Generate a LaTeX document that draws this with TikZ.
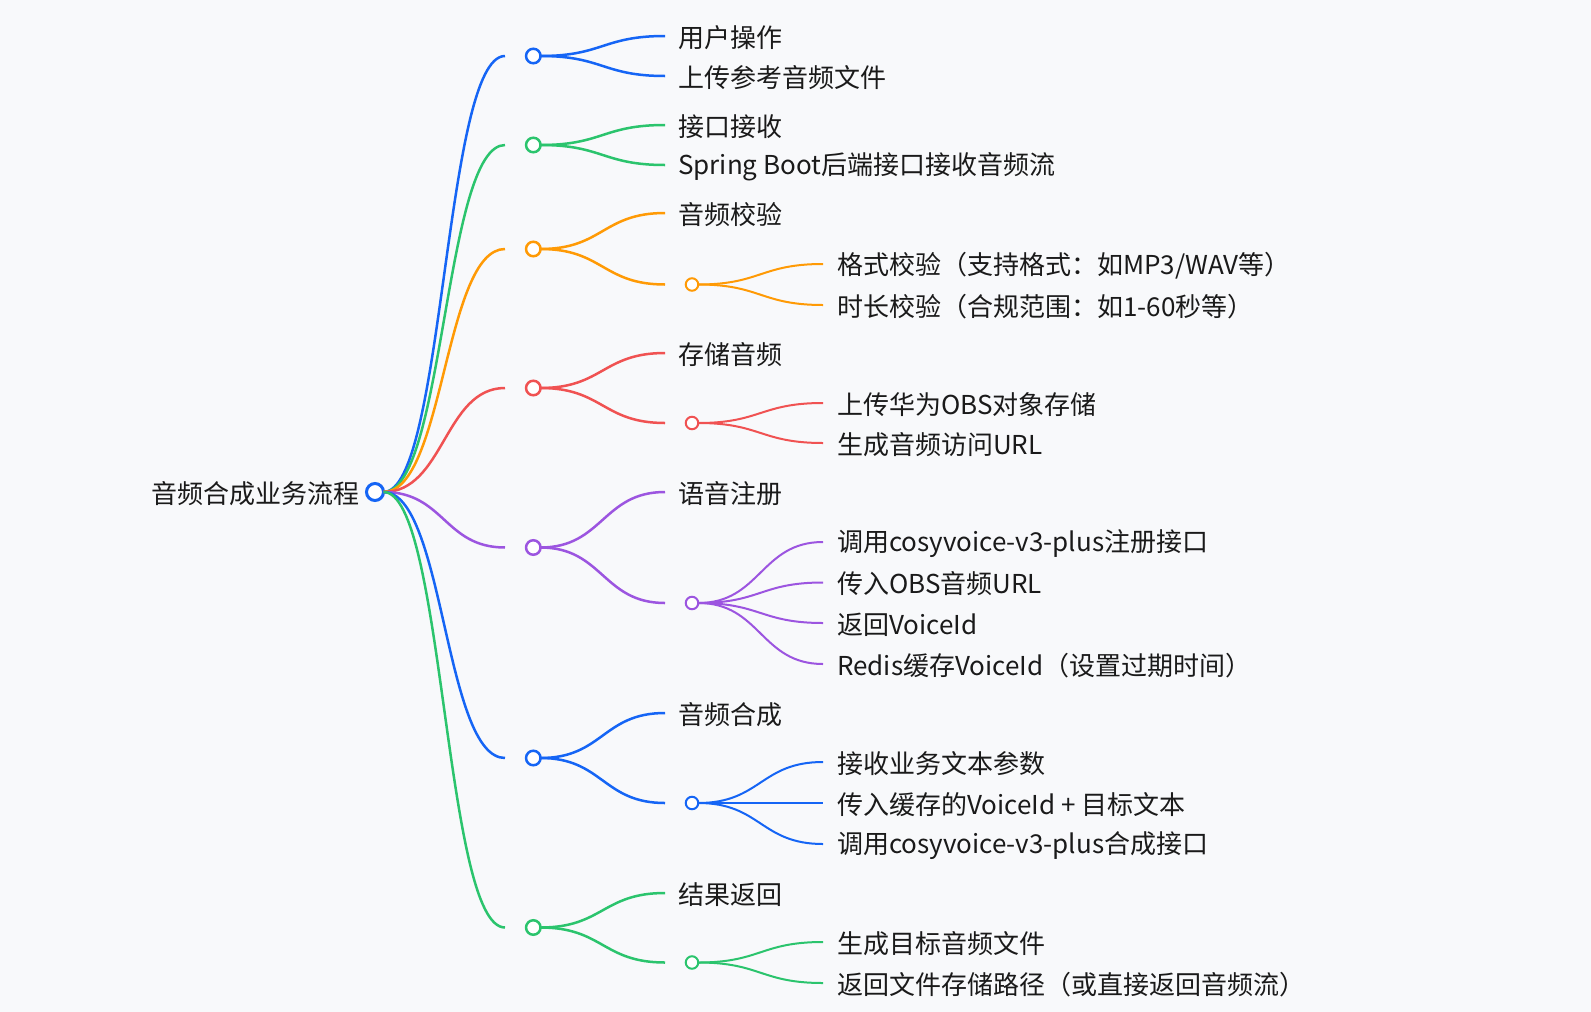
\documentclass[tikz,border=0pt]{standalone}
\usepackage{fontspec}
\setmainfont{Noto Sans CJK SC}
\usetikzlibrary{calc}
\definecolor{bgc}{HTML}{F8F9FB}
\definecolor{ink}{HTML}{1A1A1A}
\definecolor{cblue}{HTML}{1565F5}
\definecolor{cgreen}{HTML}{2BC46D}
\definecolor{corange}{HTML}{FF9A05}
\definecolor{cred}{HTML}{F05252}
\definecolor{cpurple}{HTML}{9C55E0}
\newcommand\mmlink[3]{\draw[#1] let \p1=(#2), \p2=(#3) in (\p1) .. controls ({0.5*\x1+0.5*\x2},\y1) and ({0.5*\x1+0.5*\x2},\y2) .. (\p2);}
\tikzset{
  dot/.style={circle, draw, fill=white, inner sep=0pt, outer sep=0pt},
  rootdot/.style={dot, minimum size=17pt, line width=3pt},
  lone/.style={dot, minimum size=14.5pt, line width=2.5pt},
  ltwo/.style={dot, minimum size=12.5pt, line width=2pt},
  lbl/.style={anchor=west, inner sep=0pt, text=ink, font=\fontsize{26pt}{30pt}\selectfont},
  link/.style={line width=2.5pt},
  sublink/.style={line width=2pt},
}
\begin{document}
\begin{tikzpicture}[x=1pt,y=-1pt]
\fill[bgc] (0,0) rectangle (1591,1012);
\useasboundingbox (0,0) rectangle (1591,1012);

% root
\node[rootdot, draw=cblue] (root) at (375,492) {};
\node[lbl, anchor=east] (troot) at (360,493.5) {音频合成业务流程};

% ---------- branch 1
\coordinate (e1) at (505,56);
\node[lone, draw=cblue] (n1) at (533.3,56) {};
\coordinate (e1a) at (665,36);
\coordinate (e1b) at (665,76);
\node[lbl] (t1a) at (678,37.5) {用户操作};
\node[lbl] (t1b) at (678,77.5) {上传参考音频文件};
\mmlink{cblue,link}{root.east}{e1}
\mmlink{cblue,link}{n1.east}{e1a}
\mmlink{cblue,link}{n1.east}{e1b}

% ---------- branch 2
\coordinate (e2) at (505,145);
\node[lone, draw=cgreen] (n2) at (533.3,145) {};
\coordinate (e2a) at (665,125);
\coordinate (e2b) at (665,165);
\node[lbl] (t2a) at (678,126.5) {接口接收};
\node[lbl] (t2b) at (678,166.5) {Spring Boot后端接口接收音频流};
\mmlink{cgreen,link}{root.east}{e2}
\mmlink{cgreen,link}{n2.east}{e2a}
\mmlink{cgreen,link}{n2.east}{e2b}

% ---------- branch 3
\coordinate (e3) at (505,249);
\node[lone, draw=corange] (n3) at (533.3,249) {};
\coordinate (e3a) at (665,213);
\coordinate (e3m) at (665,284.5);
\node[lbl] (t3a) at (678,214.5) {音频校验};
\node[ltwo, draw=corange] (m3) at (692,284.5) {};
\coordinate (s3a) at (823,264);
\coordinate (s3b) at (823,305);
\node[lbl] (u3a) at (837,265.5) {格式校验（支持格式：如MP3/WAV等）};
\node[lbl] (u3b) at (837,306.5) {时长校验（合规范围：如1-60秒等）};
\mmlink{corange,link}{root.east}{e3}
\mmlink{corange,link}{n3.east}{e3a}
\mmlink{corange,link}{n3.east}{e3m}
\mmlink{corange,sublink}{m3.east}{s3a}
\mmlink{corange,sublink}{m3.east}{s3b}

% ---------- branch 4
\coordinate (e4) at (505,388);
\node[lone, draw=cred] (n4) at (533.3,388) {};
\coordinate (e4a) at (665,353);
\coordinate (e4m) at (665,423);
\node[lbl] (t4a) at (678,354.5) {存储音频};
\node[ltwo, draw=cred] (m4) at (692,423) {};
\coordinate (s4a) at (823,403);
\coordinate (s4b) at (823,443);
\node[lbl] (u4a) at (837,404.5) {上传华为OBS对象存储};
\node[lbl] (u4b) at (837,444.5) {生成音频访问URL};
\mmlink{cred,link}{root.east}{e4}
\mmlink{cred,link}{n4.east}{e4a}
\mmlink{cred,link}{n4.east}{e4m}
\mmlink{cred,sublink}{m4.east}{s4a}
\mmlink{cred,sublink}{m4.east}{s4b}

% ---------- branch 5
\coordinate (e5) at (505,547.5);
\node[lone, draw=cpurple] (n5) at (533.3,547.5) {};
\coordinate (e5a) at (665,492);
\coordinate (e5m) at (665,603);
\node[lbl] (t5a) at (678,493.5) {语音注册};
\node[ltwo, draw=cpurple] (m5) at (692,603) {};
\coordinate (s5a) at (823,542);
\coordinate (s5b) at (823,582.5);
\coordinate (s5c) at (823,623);
\coordinate (s5d) at (823,664);
\node[lbl] (u5a) at (837,543.5) {调用cosyvoice-v3-plus注册接口};
\node[lbl] (u5b) at (837,584) {传入OBS音频URL};
\node[lbl] (u5c) at (837,624.5) {返回VoiceId};
\node[lbl] (u5d) at (837,665.5) {Redis缓存VoiceId（设置过期时间）};
\mmlink{cpurple,link}{root.east}{e5}
\mmlink{cpurple,link}{n5.east}{e5a}
\mmlink{cpurple,link}{n5.east}{e5m}
\mmlink{cpurple,sublink}{m5.east}{s5a}
\mmlink{cpurple,sublink}{m5.east}{s5b}
\mmlink{cpurple,sublink}{m5.east}{s5c}
\mmlink{cpurple,sublink}{m5.east}{s5d}

% ---------- branch 6
\coordinate (e6) at (505,758);
\node[lone, draw=cblue] (n6) at (533.3,758) {};
\coordinate (e6a) at (665,713);
\coordinate (e6m) at (665,803);
\node[lbl] (t6a) at (678,714.5) {音频合成};
\node[ltwo, draw=cblue] (m6) at (692,803) {};
\coordinate (s6a) at (823,762);
\coordinate (s6b) at (823,803);
\coordinate (s6c) at (823,844);
\node[lbl] (u6a) at (837,763.5) {接收业务文本参数};
\node[lbl] (u6b) at (837,804.5) {传入缓存的VoiceId + 目标文本};
\node[lbl] (u6c) at (837,845.5) {调用cosyvoice-v3-plus合成接口};
\mmlink{cblue,link}{root.east}{e6}
\mmlink{cblue,link}{n6.east}{e6a}
\mmlink{cblue,link}{n6.east}{e6m}
\mmlink{cblue,sublink}{m6.east}{s6a}
\mmlink{cblue,sublink}{m6.east}{s6b}
\mmlink{cblue,sublink}{m6.east}{s6c}

% ---------- branch 7
\coordinate (e7) at (505,927.5);
\node[lone, draw=cgreen] (n7) at (533.3,927.5) {};
\coordinate (e7a) at (665,893);
\coordinate (e7m) at (665,962.5);
\node[lbl] (t7a) at (678,894.5) {结果返回};
\node[ltwo, draw=cgreen] (m7) at (692,962.5) {};
\coordinate (s7a) at (823,942);
\coordinate (s7b) at (823,983);
\node[lbl] (u7a) at (837,943.5) {生成目标音频文件};
\node[lbl] (u7b) at (837,984.5) {返回文件存储路径（或直接返回音频流）};
\mmlink{cgreen,link}{root.east}{e7}
\mmlink{cgreen,link}{n7.east}{e7a}
\mmlink{cgreen,link}{n7.east}{e7m}
\mmlink{cgreen,sublink}{m7.east}{s7a}
\mmlink{cgreen,sublink}{m7.east}{s7b}
\end{tikzpicture}
\end{document}
